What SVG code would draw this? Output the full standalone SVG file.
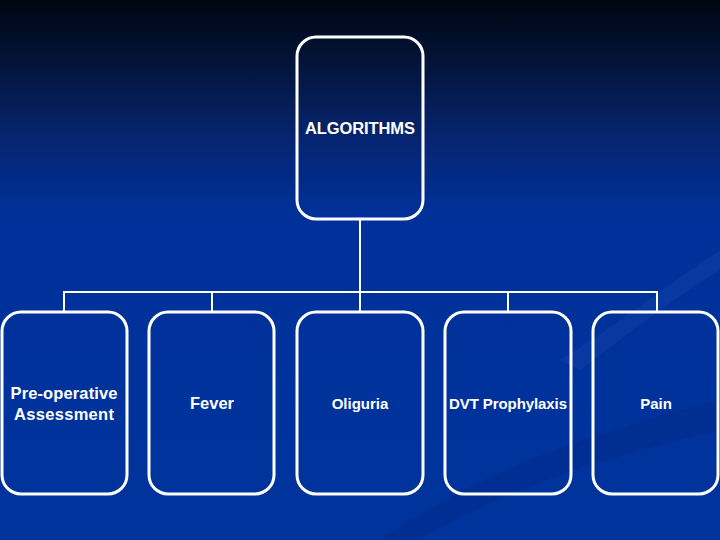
<svg xmlns="http://www.w3.org/2000/svg" width="720" height="540" viewBox="0 0 720 540">
  <defs>
    <linearGradient id="bg" x1="0" y1="0" x2="0" y2="1">
      <stop offset="0" stop-color="#000512"/>
      <stop offset="0.1" stop-color="#021233"/>
      <stop offset="0.25" stop-color="#06246e"/>
      <stop offset="0.4" stop-color="#00319a"/>
      <stop offset="1" stop-color="#00339c"/>
    </linearGradient>
    <style>
      .box { fill: none; stroke: #ffffff; stroke-width: 3; }
      .conn { fill: none; stroke: #ffffff; stroke-width: 2; }
      .lbl { font-family: "Liberation Sans", Arial, sans-serif; font-size: 15px; font-weight: bold; fill: #ffffff; text-anchor: middle; }
      .big { font-size: 16.5px; }
    </style>
  </defs>
  <rect x="0" y="0" width="720" height="540" fill="url(#bg)"/>
  <path d="M 380 540 C 480 470, 600 430, 720 400 L 720 430 C 610 455, 500 490, 420 540 Z" fill="#002a88" opacity="0.5"/>
  <path d="M 560 360 C 610 330, 660 290, 720 250 L 720 270 C 670 300, 620 340, 580 370 Z" fill="#1a48a8" opacity="0.35"/>

  <g id="connectors">
    <path class="conn" d="M 360 219 V 292"/>
    <path class="conn" d="M 64 311 V 292 H 657 V 311"/>
    <path class="conn" d="M 212 292 V 311"/>
    <path class="conn" d="M 508 292 V 311"/>
    <path class="conn" d="M 360 292 V 311"/>
  </g>

  <g id="algorithms">
    <rect class="box" x="297" y="37" width="126" height="182" rx="19"/>
    <text class="lbl big" x="360" y="134" textLength="110" lengthAdjust="spacing">ALGORITHMS</text>
  </g>
  <g id="preop">
    <rect class="box" x="2" y="312" width="125" height="182" rx="19"/>
    <text class="lbl big" x="64" y="399" textLength="107" lengthAdjust="spacing">Pre-operative</text>
    <text class="lbl big" x="64" y="420" textLength="100" lengthAdjust="spacing">Assessment</text>
  </g>
  <g id="fever">
    <rect class="box" x="149" y="312" width="125" height="182" rx="19"/>
    <text class="lbl big" x="212" y="409">Fever</text>
  </g>
  <g id="oliguria">
    <rect class="box" x="297" y="312" width="126" height="182" rx="19"/>
    <text class="lbl" x="360" y="409">Oliguria</text>
  </g>
  <g id="dvt">
    <rect class="box" x="445" y="312" width="126" height="182" rx="19"/>
    <text class="lbl" x="508" y="409" textLength="118" lengthAdjust="spacing">DVT Prophylaxis</text>
  </g>
  <g id="pain">
    <rect class="box" x="593" y="312" width="125" height="182" rx="19"/>
    <text class="lbl" x="656" y="409">Pain</text>
  </g>
</svg>
